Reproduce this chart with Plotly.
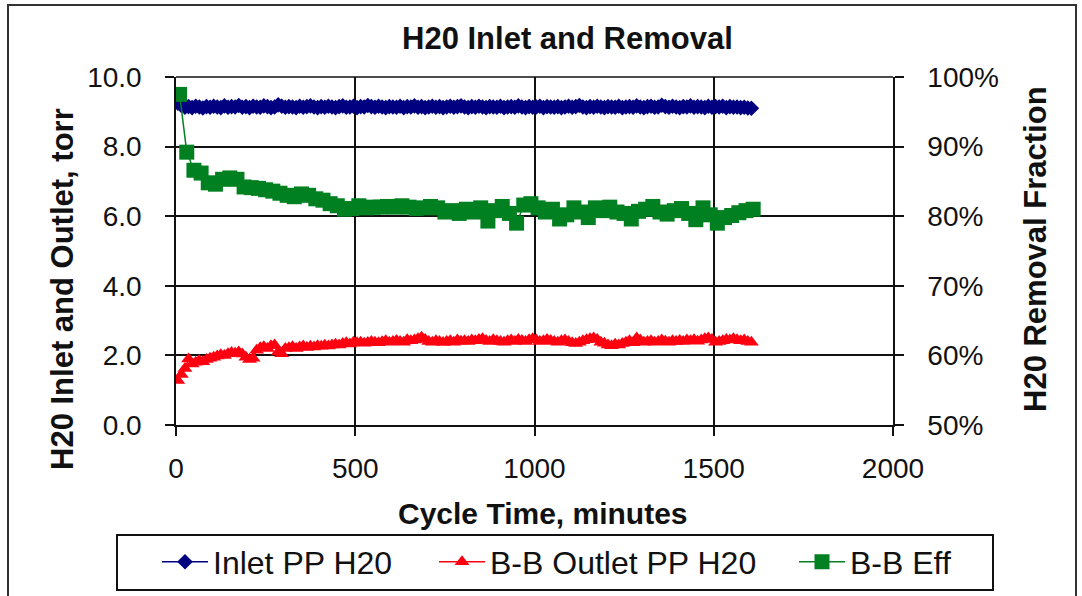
import plotly.graph_objects as go

# sampling grids (minutes)
cycle_time = list(range(5, 1606, 10))
cycle_time_eff = list(range(10, 1611, 20))

inlet_pp_h2o = [
    9.25, 9.18, 9.13, 9.15, 9.12, 9.16, 9.14, 9.11, 9.15, 9.13,
    9.16, 9.14, 9.12, 9.17, 9.13, 9.15, 9.14, 9.18, 9.13, 9.15,
    9.12, 9.16, 9.14, 9.13, 9.17, 9.15, 9.12, 9.14, 9.20, 9.16,
    9.13, 9.15, 9.14, 9.12, 9.16, 9.13, 9.15, 9.17, 9.14, 9.12,
    9.15, 9.13, 9.16, 9.14, 9.12, 9.15, 9.17, 9.13, 9.14, 9.16,
    9.12, 9.15, 9.14, 9.18, 9.15, 9.13, 9.16, 9.14, 9.12, 9.15,
    9.14, 9.13, 9.16, 9.12, 9.15, 9.14, 9.17, 9.13, 9.15, 9.12,
    9.14, 9.16, 9.13, 9.15, 9.12, 9.14, 9.16, 9.13, 9.15, 9.17,
    9.14, 9.12, 9.15, 9.13, 9.16, 9.14, 9.12, 9.15, 9.14, 9.13,
    9.16, 9.12, 9.14, 9.15, 9.13, 9.17, 9.14, 9.12, 9.15, 9.13,
    9.14, 9.16, 9.12, 9.15, 9.14, 9.13, 9.15, 9.12, 9.14, 9.16,
    9.13, 9.15, 9.18, 9.14, 9.12, 9.15, 9.13, 9.16, 9.14, 9.12,
    9.15, 9.14, 9.13, 9.16, 9.12, 9.14, 9.15, 9.13, 9.17, 9.14,
    9.12, 9.15, 9.16, 9.13, 9.14, 9.19, 9.15, 9.13, 9.16, 9.14,
    9.12, 9.15, 9.14, 9.17, 9.13, 9.15, 9.14, 9.12, 9.16, 9.13,
    9.15, 9.14, 9.16, 9.12, 9.15, 9.13, 9.14, 9.12, 9.13, 9.11,
    9.10,
]

outlet_pp_h2o = [
    1.28, 1.45, 1.62, 1.90, 1.75, 1.80, 1.85, 1.82, 1.88, 1.92,
    1.95, 1.98, 2.02, 2.00, 2.05, 2.08, 2.06, 2.10, 2.04, 1.95,
    1.88, 1.92, 2.15, 2.22, 2.25, 2.20, 2.28, 2.30, 2.10, 2.05,
    2.20, 2.22, 2.25, 2.20, 2.24, 2.27, 2.23, 2.26, 2.24, 2.28,
    2.26, 2.29, 2.27, 2.30, 2.32, 2.30, 2.34, 2.36, 2.33, 2.38,
    2.36, 2.38, 2.35, 2.37, 2.40, 2.38, 2.36, 2.39, 2.42, 2.38,
    2.40, 2.43, 2.40, 2.38, 2.45, 2.42, 2.44, 2.48, 2.52, 2.46,
    2.40, 2.38, 2.42, 2.40, 2.37, 2.40, 2.42, 2.38, 2.44, 2.41,
    2.42, 2.40, 2.44, 2.42, 2.46, 2.48, 2.43, 2.40, 2.45, 2.42,
    2.40, 2.38, 2.42, 2.44, 2.40, 2.46, 2.43, 2.40, 2.45, 2.48,
    2.44, 2.40, 2.42, 2.46, 2.43, 2.40, 2.38, 2.42, 2.44, 2.40,
    2.36, 2.34, 2.38, 2.42, 2.45, 2.48, 2.50, 2.46, 2.38, 2.35,
    2.30, 2.28, 2.32, 2.30, 2.34, 2.38, 2.42, 2.36, 2.50, 2.44,
    2.38, 2.40, 2.42, 2.38, 2.40, 2.44, 2.41, 2.38, 2.42, 2.40,
    2.43, 2.40, 2.44, 2.42, 2.45, 2.41, 2.44, 2.48, 2.50, 2.46,
    2.38, 2.40, 2.42, 2.46, 2.44, 2.48, 2.45, 2.42, 2.44, 2.40,
    2.38,
]

bb_eff = [
    0.975, 0.892, 0.866, 0.862, 0.848, 0.846, 0.853, 0.855, 0.853, 0.842,
    0.841, 0.840, 0.838, 0.836, 0.833, 0.830, 0.828, 0.832, 0.830, 0.825,
    0.823, 0.818, 0.815, 0.810, 0.811, 0.815, 0.812, 0.813, 0.813, 0.814,
    0.813, 0.815, 0.813, 0.811, 0.812, 0.814, 0.812, 0.806, 0.808, 0.804,
    0.810, 0.806, 0.812, 0.793, 0.808, 0.814, 0.804, 0.790, 0.816, 0.818,
    0.812, 0.806, 0.810, 0.796, 0.802, 0.812, 0.806, 0.798, 0.812, 0.808,
    0.813, 0.806, 0.804, 0.796, 0.807, 0.810, 0.814, 0.806, 0.803, 0.808,
    0.811, 0.804, 0.795, 0.812, 0.802, 0.790, 0.798, 0.801, 0.805, 0.808,
    0.810,
]

FONT = "Liberation Sans, Arial, sans-serif"
W, H = 1082, 596
L, R, T, B = 176, 893, 77, 425


def px(xp):
    return (xp - L) / (R - L)


def py(yp):
    return (B - yp) / (B - T)


fig = go.Figure()
fig.add_trace(go.Scatter(
    x=cycle_time, y=inlet_pp_h2o, name="Inlet PP H20", mode="lines+markers",
    line=dict(color="#000080", width=1.5),
    marker=dict(symbol="diamond", size=12, color="#000080"),
    legend="legend",
))
fig.add_trace(go.Scatter(
    x=cycle_time, y=outlet_pp_h2o, name="B-B Outlet PP H20", mode="lines+markers",
    line=dict(color="#FF0010", width=1.5),
    marker=dict(symbol="triangle-up", size=13, color="#FF0010"),
    legend="legend2",
))
fig.add_trace(go.Scatter(
    x=cycle_time_eff, y=bb_eff, name="B-B Eff", mode="lines+markers", yaxis="y2",
    line=dict(color="#008020", width=1.5),
    marker=dict(symbol="square", size=15, color="#008020"),
    legend="legend3",
))

axis_common = dict(
    showline=True, linecolor="#111", linewidth=1.5, mirror=False,
    ticks="outside", ticklen=9, tickwidth=1.5, tickcolor="#111",
    tickfont=dict(family=FONT, size=28, color="#111"),
    zeroline=False,
)


def legend_at(xscreen):
    return dict(
        orientation="h", x=px(xscreen), xanchor="left", y=py(562), yanchor="middle",
        font=dict(family=FONT, size=32, color="#111"),
        bgcolor="rgba(0,0,0,0)", borderwidth=0, itemwidth=46,
    )


fig.update_layout(
    width=W, height=H,
    margin=dict(l=L, r=W - R, t=T, b=H - B, autoexpand=False),
    paper_bgcolor="white", plot_bgcolor="white",
    showlegend=True,
    legend=legend_at(157),
    legend2=legend_at(434),
    legend3=legend_at(794),
    xaxis=dict(
        range=[0, 2000], dtick=500, tick0=0,
        showgrid=True, gridcolor="#111", gridwidth=1.5,
        ticklabelstandoff=9, **axis_common,
    ),
    yaxis=dict(
        range=[0, 10], dtick=2, tick0=0, tickformat=".1f",
        showgrid=True, gridcolor="#111", gridwidth=1.5,
        ticklabelstandoff=18, **axis_common,
    ),
    yaxis2=dict(
        range=[0.5, 1.0], dtick=0.1, tick0=0.5, tickformat=".0%",
        overlaying="y", side="right", showgrid=False,
        ticklabelstandoff=18, **axis_common,
    ),
    shapes=[
        # outer chart frame
        dict(type="rect", xref="paper", yref="paper",
             x0=px(8), x1=px(1076), y0=py(610), y1=py(5),
             line=dict(color="#333", width=2), fillcolor="rgba(0,0,0,0)", layer="below"),
        # top border of plot area
        dict(type="line", xref="paper", yref="paper", x0=0, x1=1, y0=1, y1=1,
             line=dict(color="#111", width=1.5)),
        # legend box
        dict(type="rect", xref="paper", yref="paper",
             x0=px(117), x1=px(993), y0=py(590), y1=py(535),
             line=dict(color="#111", width=2), fillcolor="rgba(0,0,0,0)"),
    ],
    annotations=[
        dict(text="<b>H20 Inlet and Removal</b>", xref="paper", yref="paper",
             x=px(567), y=py(38), showarrow=False, xanchor="center", yanchor="middle",
             font=dict(family=FONT, size=31, color="#111")),
        dict(text="<b>Cycle Time, minutes</b>", xref="paper", yref="paper",
             x=px(543), y=py(513), showarrow=False, xanchor="center", yanchor="middle",
             font=dict(family=FONT, size=30, color="#111")),
        dict(text="<b>H20 Inlet and Outlet, torr</b>", xref="paper", yref="paper",
             x=px(62), y=py(289), showarrow=False, xanchor="center", yanchor="middle",
             textangle=-90, font=dict(family=FONT, size=31, color="#111")),
        dict(text="<b>H20 Removal Fraction</b>", xref="paper", yref="paper",
             x=px(1036), y=py(249), showarrow=False, xanchor="center", yanchor="middle",
             textangle=-90, font=dict(family=FONT, size=31, color="#111")),
    ],
)

fig.write_html(
    "out.html",
    config={"displayModeBar": False},
    post_script="document.body.style.margin='0';document.body.style.overflow='hidden';",
)
